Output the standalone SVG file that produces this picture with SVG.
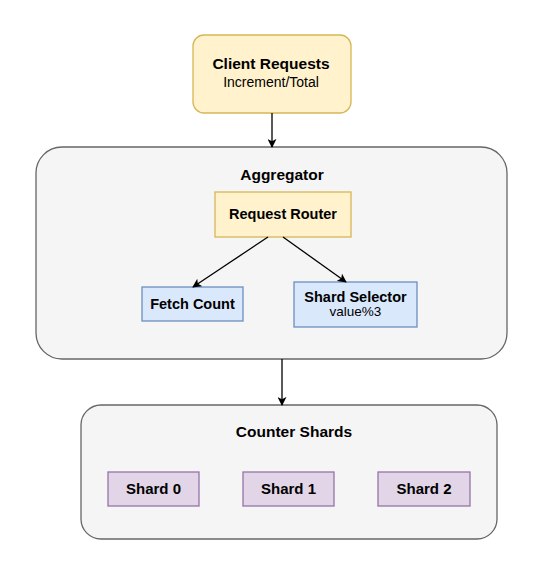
<svg xmlns="http://www.w3.org/2000/svg" width="555" height="581" viewBox="0 0 555 581">
<defs>
<style>
.b{font-family:"Liberation Sans",Arial,sans-serif;font-weight:bold;fill:#000;text-anchor:middle}
.r{font-family:"Liberation Sans",Arial,sans-serif;fill:#000;text-anchor:middle}
.y{fill:#fff2cc;stroke:#d6b656;stroke-width:1.3}
.bl{fill:#dae8fc;stroke:#6c8ebf;stroke-width:1.3}
.p{fill:#e1d5e7;stroke:#9673a6;stroke-width:1.3}
.g{fill:#f5f5f5;stroke:#666666;stroke-width:1.3}
.c{stroke:#000;stroke-width:1.3;fill:none;marker-end:url(#ah)}
</style>
<marker id="ah" viewBox="0 0 10 10" refX="9" refY="5" markerWidth="9" markerHeight="9" markerUnits="userSpaceOnUse" orient="auto">
<path d="M0,0 L10,5 L0,10 L2.5,5 Z" fill="#000"/>
</marker>
</defs>
<rect width="555" height="581" fill="#fff"/>
<g id="aggregator">
<rect class="g" x="36" y="147" width="471" height="212" rx="26"/>
<text class="b" x="282" y="180" font-size="15.5">Aggregator</text>
</g>
<g id="counter-shards">
<rect class="g" x="81" y="405" width="416" height="134" rx="20"/>
<text class="b" x="294" y="437" font-size="15.5">Counter Shards</text>
</g>
<g id="client-requests">
<rect class="y" x="193" y="35" width="158" height="78" rx="11"/>
<text class="b" x="271" y="69" font-size="15.5">Client Requests</text>
<text class="r" x="271" y="87" font-size="14">Increment/Total</text>
</g>
<g id="request-router">
<rect class="y" x="215" y="192" width="136" height="45"/>
<text class="b" x="283" y="219" font-size="14.5">Request Router</text>
</g>
<g id="fetch-count">
<rect class="bl" x="142" y="287" width="101" height="34"/>
<text class="b" x="192.5" y="309" font-size="14.5">Fetch Count</text>
</g>
<g id="shard-selector">
<rect class="bl" x="294" y="282" width="123" height="45"/>
<text class="b" x="355.5" y="302" font-size="14.5">Shard Selector</text>
<text class="r" x="355.5" y="316" font-size="13.5">value%3</text>
</g>
<g id="shard-0">
<rect class="p" x="108" y="472" width="91" height="34"/>
<text class="b" x="153.5" y="494" font-size="15">Shard 0</text>
</g>
<g id="shard-1">
<rect class="p" x="243" y="472" width="91" height="34"/>
<text class="b" x="288.5" y="494" font-size="15">Shard 1</text>
</g>
<g id="shard-2">
<rect class="p" x="378" y="472" width="92" height="34"/>
<text class="b" x="424" y="494" font-size="15">Shard 2</text>
</g>
<g id="connectors">
<line class="c" x1="272" y1="113" x2="272" y2="147"/>
<line class="c" x1="268" y1="237" x2="193" y2="287"/>
<line class="c" x1="283" y1="237" x2="346" y2="282"/>
<line class="c" x1="282" y1="359" x2="282" y2="405"/>
</g>
</svg>
